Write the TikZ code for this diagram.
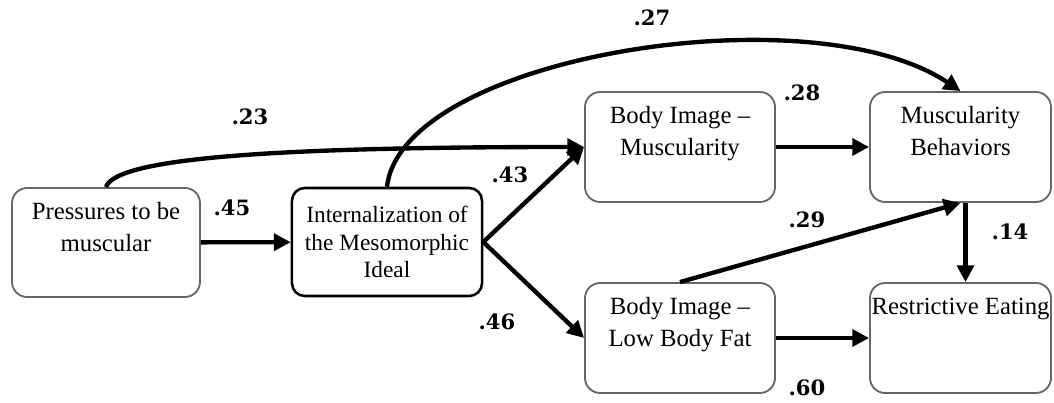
\documentclass[tikz,border=0pt]{standalone}
\usepackage{fontspec}
\setmainfont{Liberation Serif}
\newfontfamily\coeffont{DejaVu Serif}
\usepackage{tikz}
\usetikzlibrary{arrows.meta,positioning}

\begin{document}
\begin{tikzpicture}[x=0.025cm, y=0.025cm,
  gbox/.style={draw=black!60, line width=1.3pt, rounded corners=0.38cm, align=center, inner sep=0pt,
    minimum width=4.75cm, minimum height=2.75cm, font=\fontsize{17.6}{22.8}\selectfont},
  ibox/.style={draw=black, line width=1.8pt, rounded corners=0.32cm, align=center, inner sep=0pt,
    minimum width=4.75cm, minimum height=2.7cm, font=\fontsize{16.6}{19.6}\selectfont},
  coef/.style={font=\coeffont\bfseries\fontsize{15}{18}\selectfont},
  arr/.style={line width=3.1pt, -{Triangle[length=0.42cm, width=0.42cm]}}]
  \useasboundingbox (0,0) rectangle (1054,402);
  % Boxes
  \node[gbox, minimum width=4.7cm, minimum height=2.725cm] (press) at (106,159.5) {Pressures to be\\muscular\\\mbox{}};
  \node[ibox] (intern) at (387,160) {Internalization of\\the Mesomorphic\\Ideal};
  \node[gbox] (bim) at (680,255) {Body Image --\\Muscularity\\\mbox{}};
  \node[gbox] (lbf) at (680,64) {Body Image --\\Low Body Fat\\\mbox{}};
  \node[gbox, minimum width=4.525cm] (mb) at (960.5,255) {Muscularity\\Behaviors\\\mbox{}};
  \node[gbox, minimum width=4.525cm] (rest) at (960.5,64) {Restrictive Eating\\\mbox{}\\\mbox{}};
  % Paths
  \draw[arr] (press) -- (intern);
  \draw[arr] (intern.east) -- (bim.west);
  \draw[arr] (intern.east) -- (lbf.west);
  \draw[arr] (bim) -- (mb);
  \draw[arr] (lbf) -- (rest);
  \draw[arr] (lbf.north) -- (mb.south);
  \draw[arr] ([xshift=0.125cm]mb.south) -- ([xshift=0.125cm]rest.north);
  \draw[arr] (press.north) .. controls +(10,30) and +(-300,0) .. (bim.west);
  \draw[arr] (intern.north) .. controls +(15,130) and +(-150,100) .. (mb.north);
  % Coefficients
  \node[coef] (c45) at (232,194) {.45};
  \node[coef] (c23) at (250,285) {.23};
  \node[coef] (c27) at (652,384) {.27};
  \node[coef] (c43) at (510,227) {.43};
  \node[coef] (c46) at (497,80) {.46};
  \node[coef] (c28) at (802,309) {.28};
  \node[coef] (c29) at (807,182) {.29};
  \node[coef] (c14) at (1010,170) {.14};
  \node[coef] (c60) at (807,14) {.60};
\end{tikzpicture}
\end{document}
